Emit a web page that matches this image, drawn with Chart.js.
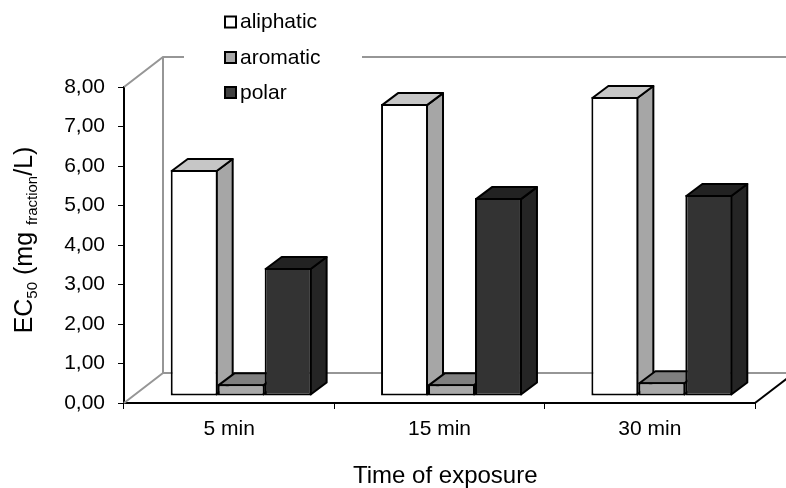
<!DOCTYPE html>
<html>
<head>
<meta charset="utf-8">
<style>
  html, body { margin: 0; padding: 0; background: #fff; }
  #wrap { width: 786px; height: 488px; }
</style>
<script src="https://cdn.jsdelivr.net/npm/chart.js@4/dist/chart.umd.js"></script>
</head>
<body>
<div id="wrap"><canvas id="ecChart" width="786" height="488"></canvas></div>
<script>
const categories = ['5 min', '15 min', '30 min'];
const aliphatic = [5.72, 7.39, 7.57];
const aromatic = [0.30, 0.30, 0.35];
const polar = [3.24, 5.01, 5.09];
const yTickLabels = ['0,00', '1,00', '2,00', '3,00', '4,00', '5,00', '6,00', '7,00', '8,00'];
const xTitle = 'Time of exposure';

const FONT = '"Liberation Sans", Arial, sans-serif';
const TICK_SIZE = 21;
const TITLE_SIZE = 24;
const AXIS_COLOR = '#000';
const WALL_COLOR = '#969696';

// 3D look: wall depth, bar front plane shift, bar depth
const WALL_DX = 39, WALL_DY = 30;
const FRONT_DX = 12, FRONT_DY = 7;
const BAR_DX = 16, BAR_DY = 12;

// colours per dataset: front, side, top
const faces = [
    { front: '#ffffff', side: '#a6a6a6', top: '#c6c6c6' },
    { front: '#a8a8a8', side: '#8a8a8a', top: '#7f7f7f' },
    { front: '#333333', side: '#252525', top: '#222222' }
];

function poly(ctx, pts, fill) {
    ctx.beginPath();
    pts.forEach((p, i) => i ? ctx.lineTo(p[0], p[1]) : ctx.moveTo(p[0], p[1]));
    ctx.closePath();
    ctx.fillStyle = fill;
    ctx.fill();
    ctx.stroke();
}

const walls = {
    id: 'walls',
    beforeDatasetsDraw(chart) {
        const ctx = chart.ctx, x = chart.scales.x, y = chart.scales.y;
        const l = x.left, r = x.right, t = y.getPixelForValue(8), b = y.getPixelForValue(0);
        ctx.save();
        ctx.strokeStyle = WALL_COLOR;
        ctx.lineWidth = 2;
        ctx.beginPath();
        ctx.moveTo(l, t); ctx.lineTo(l + WALL_DX, t - WALL_DY); ctx.lineTo(786, t - WALL_DY);
        ctx.moveTo(l + WALL_DX, t - WALL_DY); ctx.lineTo(l + WALL_DX, b - WALL_DY); ctx.lineTo(786, b - WALL_DY);
        ctx.moveTo(l, b); ctx.lineTo(l + WALL_DX, b - WALL_DY);
        ctx.stroke();
        // floor edge on the right side
        ctx.strokeStyle = AXIS_COLOR;
        ctx.beginPath();
        ctx.moveTo(r, b); ctx.lineTo(r + WALL_DX, b - WALL_DY);
        ctx.stroke();
        ctx.restore();
    }
};

// bars have to go left to right, so the normal (reversed) dataset order is skipped
const bars3d = {
    id: 'bars3d',
    beforeDatasetDraw() {
        return false;
    },
    afterDatasetsDraw(chart) {
        const ctx = chart.ctx;
        chart.data.datasets.forEach((ds, i) => {
            const meta = chart.getDatasetMeta(i), f = faces[i];
            ctx.save();
            ctx.translate(FRONT_DX, -FRONT_DY);
            ctx.strokeStyle = '#000';
            ctx.lineWidth = 2;
            ctx.lineJoin = 'round';
            meta.data.forEach(el => {
                // the native border is inset by 1px, corners meet at its centre
                const x0 = el.x - el.width / 2 + 1, x1 = el.x + el.width / 2 - 1;
                const top = el.y + 1, base = el.base - 1;
                poly(ctx, [[x1, top], [x1 + BAR_DX, top - BAR_DY], [x1 + BAR_DX, base - BAR_DY], [x1, base]], f.side);
                poly(ctx, [[x0, top], [x0 + BAR_DX, top - BAR_DY], [x1 + BAR_DX, top - BAR_DY], [x1, top]], f.top);
            });
            meta.controller.draw();
            ctx.restore();
        });
    }
};

// legend and the titles need a small gap, subscripts and an off-centre spot, so they are drawn by hand
const extras = {
    id: 'extras',
    afterDraw(chart) {
        const ctx = chart.ctx;
        ctx.save();
        // legend sits on a white block that cuts the top wall line
        ctx.fillStyle = '#fff';
        ctx.fillRect(184, 0, 178, 110);
        ctx.textBaseline = 'middle';
        ctx.textAlign = 'left';
        ctx.font = TICK_SIZE + 'px ' + FONT;
        const legendY = [22.5, 58, 93];
        chart.data.datasets.forEach((ds, i) => {
            ctx.fillStyle = i === 2 ? '#404040' : ds.backgroundColor;
            ctx.strokeStyle = '#000';
            ctx.lineWidth = 2;
            ctx.fillRect(225, legendY[i] - 6, 11, 11);
            ctx.strokeRect(225, legendY[i] - 6, 11, 11);
            ctx.fillStyle = '#000';
            ctx.fillText(ds.label, 240, legendY[i]);
        });
        // x title
        ctx.textBaseline = 'alphabetic';
        ctx.font = TITLE_SIZE + 'px ' + FONT;
        ctx.fillText(xTitle, 353, 483);
        // y title, rotated, with subscripts
        ctx.translate(32, 240);
        ctx.rotate(-Math.PI / 2);
        const parts = [['EC', 25, 0], ['50', 15, 5], [' (mg ', 25, 0], ['fraction', 15, 5], ['/L)', 25, 0]];
        let total = 0;
        parts.forEach(p => { ctx.font = p[1] + 'px ' + FONT; total += ctx.measureText(p[0]).width; });
        let px = -total / 2;
        parts.forEach(p => {
            ctx.font = p[1] + 'px ' + FONT;
            ctx.fillText(p[0], px, p[2]);
            px += ctx.measureText(p[0]).width;
        });
        ctx.restore();
    }
};

function makeDataset(label, values, i) {
    return {
        label: label,
        data: values,
        backgroundColor: faces[i].front,
        borderColor: '#000',
        borderWidth: 2,
        borderSkipped: false,
        clip: false,
        barPercentage: 1,
        categoryPercentage: 0.67
    };
}

new Chart(document.getElementById('ecChart').getContext('2d'), {
    type: 'bar',
    data: {
        labels: categories,
        datasets: [
            makeDataset('aliphatic', aliphatic, 0),
            makeDataset('aromatic', aromatic, 1),
            makeDataset('polar', polar, 2)
        ]
    },
    plugins: [walls, bars3d, extras],
    options: {
        responsive: false,
        animation: false,
        layout: { padding: { left: 0, right: 31, top: 87, bottom: 0 } },
        plugins: { legend: { display: false }, tooltip: { enabled: false } },
        scales: {
            x: {
                afterFit(s) { s.height = 85; },
                border: { color: AXIS_COLOR, width: 2 },
                grid: { drawOnChartArea: false, color: AXIS_COLOR, tickLength: 6, offset: true },
                ticks: { color: '#000', font: { family: FONT, size: TICK_SIZE }, padding: 8, maxRotation: 0 }
            },
            y: {
                min: 0,
                max: 8,
                afterFit(s) { s.width = 124; },
                border: { color: AXIS_COLOR, width: 2 },
                grid: { drawOnChartArea: false, color: AXIS_COLOR, tickLength: 6 },
                ticks: {
                    stepSize: 1,
                    color: '#000',
                    padding: 13,
                    font: { family: FONT, size: TICK_SIZE },
                    callback: (v, i) => yTickLabels[i]
                }
            }
        }
    }
});
</script>
</body>
</html>
